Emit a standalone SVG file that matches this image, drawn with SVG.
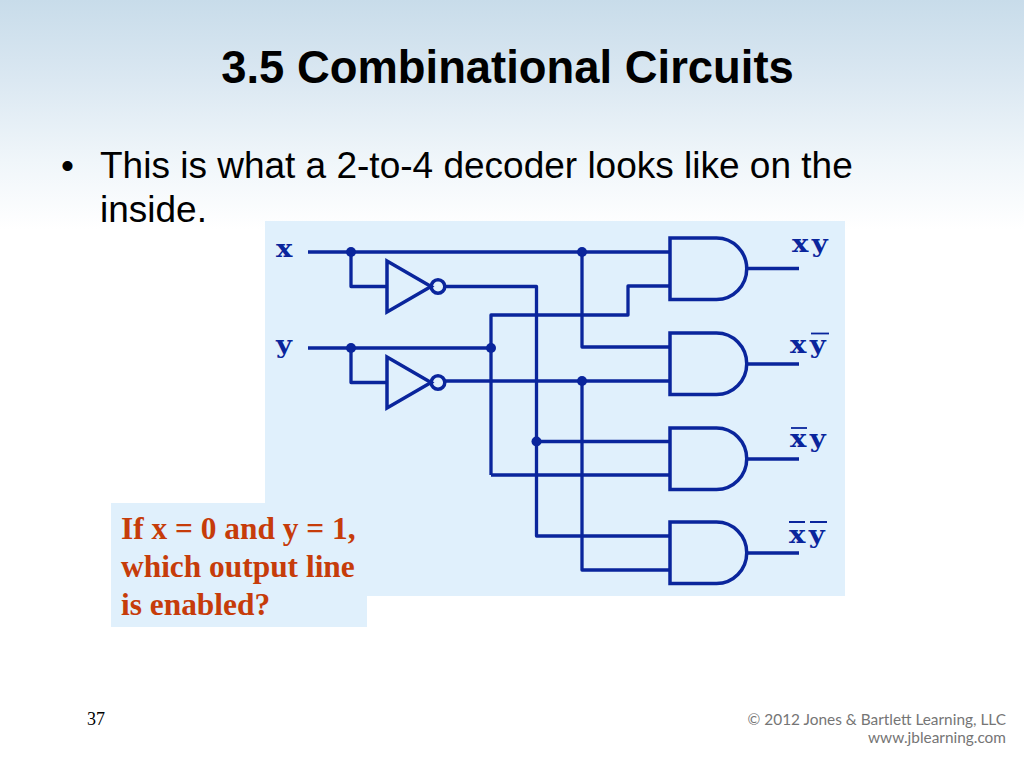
<svg xmlns="http://www.w3.org/2000/svg" width="1024" height="768" viewBox="0 0 1024 768">
<defs>
<linearGradient id="bg" x1="0" y1="0" x2="0" y2="1">
<stop offset="0" stop-color="#c8dcea"/>
<stop offset="0.35" stop-color="#dbe8f2"/>
<stop offset="0.7" stop-color="#f0f6fa"/>
<stop offset="1" stop-color="#ffffff"/>
</linearGradient>
<path id="and" d="M670 0H716.500A30 30.500 0 0 1 716.500 61.500H670Z"/>
<g id="not"><path d="M387 -25.500V25.500L431 0Z"/><circle cx="438" cy="0" r="6.800"/></g>
</defs>
<style>
.w{fill:none;stroke:#0a259c;stroke-width:3.300;stroke-linejoin:round}
.g{fill:none;stroke:#0a259c;stroke-width:3.500}
.d{fill:#0a259c}
.l{font:bold 25px "DejaVu Serif",serif;fill:#0a259c}
.o{stroke:#0a259c;stroke-width:1.800;fill:none}
.q{font:bold 31.400px "Liberation Serif",serif;fill:#c63c0a}
.b{font:37px "Liberation Sans",Arial,sans-serif;fill:#000}
.f{font:15.400px "Lato",sans-serif;fill:#757575}
</style>
<rect width="1024" height="230" fill="url(#bg)"/>
<text id="title" x="507.500" y="83" text-anchor="middle" style="font:bold 45.400px 'Liberation Sans',Arial,sans-serif;fill:#000">3.5 Combinational Circuits</text>
<text class="b" x="61" y="178">•</text>
<text class="b" x="100" y="178">This is what a 2-to-4 decoder looks like on the</text>
<text class="b" x="100" y="222">inside.</text>
<path id="panel" fill="#e0f0fc" d="M265 221H845V596H367V627H111V503H265Z"/>
<g id="connectors">
<path class="w" d="M308 252H670M351 252V286.500H387M308 348H491M351 348V382.500H387"/>
<path class="w" d="M445 286.500H536.500V536H670M445 381H582V570H670"/>
<path class="w" d="M491 475V315H628V286H670M491 475H670M536.500 441.500H670M582 252V347H670M582 381H670"/>
<path class="w" d="M747 268.500H799M747 364H799M747 459H799M747 553H799"/>
<g class="d"><circle cx="351" cy="252" r="5"/><circle cx="351" cy="348" r="5"/><circle cx="582" cy="252" r="5"/><circle cx="582" cy="381" r="5"/><circle cx="491" cy="348" r="5"/><circle cx="536.500" cy="441.500" r="5"/></g>
</g>
<g id="not1" class="g" transform="translate(0,286.500)"><use href="#not"/></g>
<g id="not2" class="g" transform="translate(0,382.500)"><use href="#not"/></g>
<g id="and1" class="g" transform="translate(0,238)"><use href="#and"/></g>
<g id="and2" class="g" transform="translate(0,333)"><use href="#and"/></g>
<g id="and3" class="g" transform="translate(0,428)"><use href="#and"/></g>
<g id="and4" class="g" transform="translate(0,522)"><use href="#and"/></g>
<g id="labels">
<text class="l" transform="translate(276 257) scale(1.100 1)">x</text>
<text class="l" transform="translate(276 353) scale(1.100 1)">y</text>
<text class="l" transform="translate(792 252) scale(1.100 1)" x="0 18">xy</text>
<text class="l" transform="translate(790 353) scale(1.100 1)" x="0 18">xy</text>
<path class="o" d="M811 333.500H829"/>
<text class="l" transform="translate(790 447) scale(1.100 1)" x="0 18">xy</text>
<path class="o" d="M791 428H807"/>
<text class="l" transform="translate(789 543) scale(1.100 1)" x="0 18">xy</text>
<path class="o" d="M789 522H805M810 522H827"/>
</g>
<g id="question" class="q">
<text x="121" y="539">If x = 0 and y = 1,</text>
<text x="121" y="577">which output line</text>
<text x="121" y="615">is enabled?</text>
</g>
<text x="87" y="725" style="font:18px 'Liberation Serif',serif;fill:#000">37</text>
<g id="footer" class="f" text-anchor="end">
<text x="1006" y="725">© 2012 Jones &amp; Bartlett Learning, LLC</text>
<text x="1006" y="743">www.jblearning.com</text>
</g>
</svg>
